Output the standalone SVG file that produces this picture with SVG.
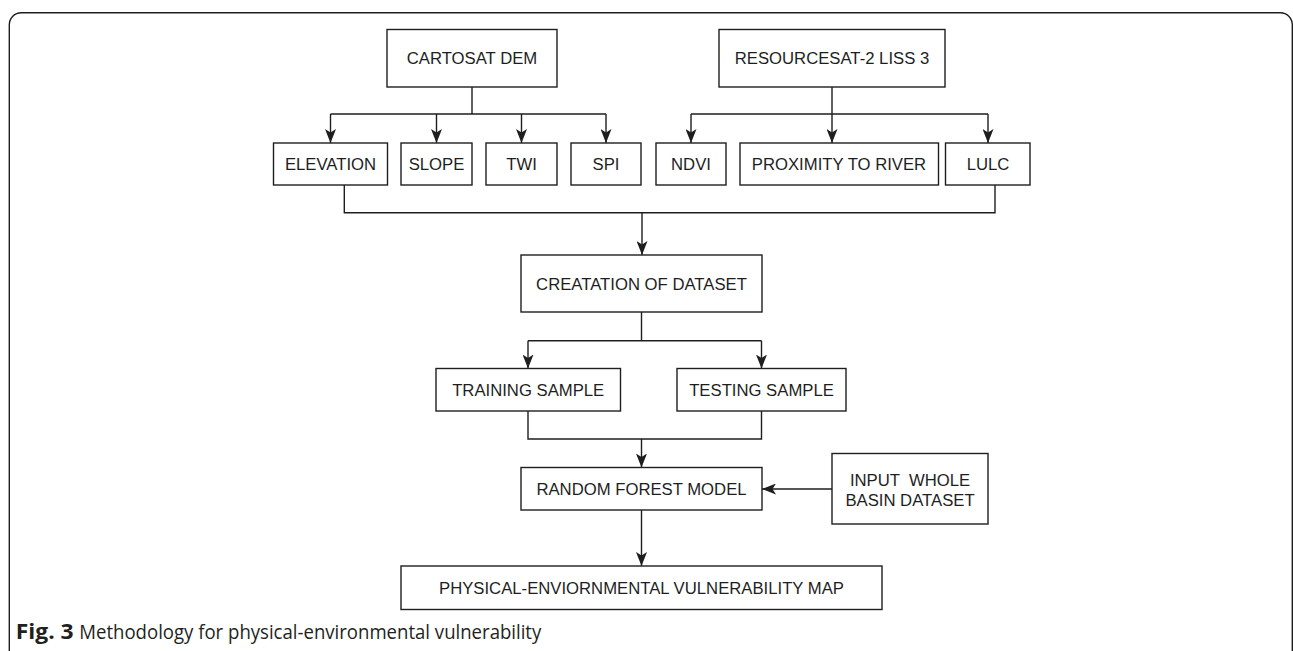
<svg xmlns="http://www.w3.org/2000/svg" width="1293" height="651" viewBox="0 0 1293 651">
<style>
.box{fill:#fff;stroke:#1e1e1e;stroke-width:1.4}
.lbl{font-family:"Liberation Sans",Arial,sans-serif;font-size:16.7px;fill:#1e1e1e;text-anchor:middle}
.ln{fill:none;stroke:#1e1e1e;stroke-width:1.4}
.arr{marker-end:url(#ah)}
.cap{font-family:"Open Sans","Noto Sans",sans-serif;font-size:20.5px;fill:#231f20}
</style>
<defs>
<marker id="ah" viewBox="0 0 14 11" refX="14" refY="5.5" markerWidth="14" markerHeight="11" markerUnits="userSpaceOnUse" orient="auto">
<path d="M0,0 L14,5.5 L0,11 L3.5,5.5 Z" fill="#1e1e1e"/>
</marker>
</defs>
<rect x="9.3" y="12.7" width="1283" height="670" rx="12" ry="12" fill="none" stroke="#1e1e1e" stroke-width="1.4"/>
<g id="connectors">
<path class="ln" d="M472,87 V114" stroke-width="2.2"/>
<path class="ln" d="M330.5,114 H606"/>
<path class="ln arr" d="M330.5,114 V143"/>
<path class="ln arr" d="M436.5,114 V143"/>
<path class="ln arr" d="M521.5,114 V143"/>
<path class="ln arr" d="M606,114 V143"/>
<path class="ln" d="M832,87 V114"/>
<path class="ln" d="M691,114 H988"/>
<path class="ln arr" d="M691,114 V143"/>
<path class="ln arr" d="M832,114 V143"/>
<path class="ln arr" d="M988,114 V143"/>
<path class="ln" d="M344.3,185 V212.7 H995 V185"/>
<path class="ln arr" d="M642,212.7 V255"/>
<path class="ln" d="M641.5,312 V340.7"/>
<path class="ln" d="M528,340.7 H761.5"/>
<path class="ln arr" d="M528,340.7 V368.5"/>
<path class="ln arr" d="M761.5,340.7 V368.5"/>
<path class="ln" d="M528,411 V439 H761.5 V411"/>
<path class="ln arr" d="M641.5,439 V467.5"/>
<path class="ln arr" d="M832,489 H762"/>
<path class="ln arr" d="M641.5,510 V566"/>
</g>
<g id="cartosat"><rect class="box" x="387" y="29.5" width="170" height="57.5"/><text class="lbl" x="472" y="64.3">CARTOSAT DEM</text></g>
<g id="resourcesat"><rect class="box" x="719" y="29.5" width="226" height="57.5"/><text class="lbl" x="832" y="64.3">RESOURCESAT-2 LISS 3</text></g>
<g id="elevation"><rect class="box" x="273.5" y="143" width="114" height="42"/><text class="lbl" x="330.5" y="170">ELEVATION</text></g>
<g id="slope"><rect class="box" x="401" y="143" width="71" height="42"/><text class="lbl" x="436.5" y="170">SLOPE</text></g>
<g id="twi"><rect class="box" x="486" y="143" width="71" height="42"/><text class="lbl" x="521.5" y="170">TWI</text></g>
<g id="spi"><rect class="box" x="571" y="143" width="70" height="42"/><text class="lbl" x="606" y="170">SPI</text></g>
<g id="ndvi"><rect class="box" x="656" y="143" width="70" height="42"/><text class="lbl" x="691" y="170">NDVI</text></g>
<g id="proximity"><rect class="box" x="740" y="143" width="198.5" height="42"/><text class="lbl" x="839" y="170">PROXIMITY TO RIVER</text></g>
<g id="lulc"><rect class="box" x="945.5" y="143" width="84.5" height="42"/><text class="lbl" x="988" y="170">LULC</text></g>
<g id="creatation"><rect class="box" x="521" y="255" width="241" height="57"/><text class="lbl" x="641.5" y="289.5">CREATATION OF DATASET</text></g>
<g id="training"><rect class="box" x="436" y="368.5" width="184.5" height="42.5"/><text class="lbl" x="528.2" y="395.8">TRAINING SAMPLE</text></g>
<g id="testing"><rect class="box" x="677" y="368.5" width="169" height="42.5"/><text class="lbl" x="761.5" y="395.8">TESTING SAMPLE</text></g>
<g id="randomforest"><rect class="box" x="521" y="467.5" width="241" height="42.5"/><text class="lbl" x="641.5" y="494.8">RANDOM FOREST MODEL</text></g>
<g id="input"><rect class="box" x="832" y="453.5" width="156" height="70.5"/><text class="lbl" x="910" y="486" xml:space="preserve">INPUT  WHOLE</text><text class="lbl" x="910" y="505.5">BASIN DATASET</text></g>
<g id="physical"><rect class="box" x="401" y="566" width="481" height="43.5"/><text class="lbl" x="641.5" y="593.8">PHYSICAL-ENVIORNMENTAL VULNERABILITY MAP</text></g>
<g id="caption">
<text class="cap" x="15.7" y="639" font-weight="bold" textLength="58" lengthAdjust="spacingAndGlyphs">Fig. 3</text>
<text class="cap" x="79.3" y="639" textLength="462" lengthAdjust="spacingAndGlyphs">Methodology for physical-environmental vulnerability</text>
</g>
</svg>
